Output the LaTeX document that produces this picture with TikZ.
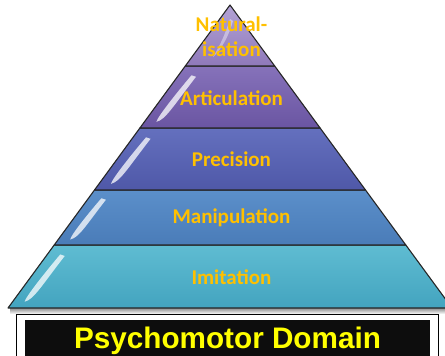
\documentclass[tikz,border=0pt]{standalone}
\usepackage{fontspec}
\setmainfont{Carlito}
\newfontfamily\bannerfont{Liberation Sans}
\definecolor{natTop}{HTML}{B3A3D6}
\definecolor{natBot}{HTML}{8F79BA}
\definecolor{artTop}{HTML}{8672BA}
\definecolor{artBot}{HTML}{6A55A2}
\definecolor{preTop}{HTML}{6470BE}
\definecolor{preBot}{HTML}{4F58A8}
\definecolor{manTop}{HTML}{5B8FCA}
\definecolor{manBot}{HTML}{4A7CB8}
\definecolor{imiTop}{HTML}{5FBCD2}
\definecolor{imiBot}{HTML}{43A4BF}
\definecolor{labelGold}{HTML}{FFC000}
\definecolor{titleYellow}{HTML}{FFFF00}
\definecolor{nearBlack}{HTML}{0D0D0D}

% glossy streak just inside the left edge of a band (#1 = top y, #2 = bottom y)
\newcommand\glint[2]{%
  \pgfmathsetmacro\gh{#2-#1}%
  \pgfmathsetmacro\gya{#1+0.15*\gh}%
  \pgfmathsetmacro\gyb{#2-0.1*\gh}%
  \pgfmathsetmacro\gxa{230-0.73267*(\gya-5)+13}%
  \pgfmathsetmacro\gxb{230-0.73267*(\gyb-5)+12}%
  \pgfmathsetmacro\gxm{\gxa+(\gxb-\gxa)/3}%
  \pgfmathsetmacro\gym{\gya+(\gyb-\gya)/3}%
  \pgfmathsetmacro\gxn{\gxa+2*(\gxb-\gxa)/3}%
  \pgfmathsetmacro\gyn{\gya+2*(\gyb-\gya)/3}%
  \fill[white,opacity=.75]
    (\gxa,\gya) .. controls (\gxm-1.5,\gym) and (\gxb+1,\gyb-5) .. (\gxb,\gyb)
    .. controls (\gxb+9,\gyb-2) and (\gxn+5,\gyn) .. (\gxa+4.5,\gya+1.5) -- cycle;
}

\tikzset{
  band/.style n args={2}{draw=black!85, line width=1.1pt, line join=round,
    top color=#1, bottom color=#2},
  lbl/.style={text=labelGold, font=\fontsize{21}{25}\selectfont\bfseries,
    inner sep=0pt, anchor=base, align=center},
}

\begin{document}
\begin{tikzpicture}[x=1pt,y=-1pt]
\useasboundingbox (0,0) rectangle (445,356);
\clip (0,0) rectangle (445,356);

% soft shadow under the pyramid base
\shade[top color=black!45, bottom color=white] (10,308) rectangle (452,314);

% pyramid bands, bottom to top
\path[band={imiTop}{imiBot}] (54.2,245) -- (405.8,245) -- (452,308) -- (8,308) -- cycle;
\path[band={manTop}{manBot}] (94.5,190) -- (365.5,190) -- (405.8,245) -- (54.2,245) -- cycle;
\path[band={preTop}{preBot}] (139.9,128) -- (320.1,128) -- (365.5,190) -- (94.5,190) -- cycle;
\path[band={artTop}{artBot}] (185.3,66) -- (274.7,66) -- (320.1,128) -- (139.9,128) -- cycle;
\path[band={natTop}{natBot}] (230,5) -- (274.7,66) -- (185.3,66) -- cycle;

% glossy highlights
\glint{245}{308}
\glint{190}{245}
\glint{128}{190}
\glint{66}{128}
\fill[white,opacity=.4] (230,19) .. controls (226,32) and (220,46) .. (213,57)
  .. controls (222,49) and (229,35) .. (233,21) -- cycle;

% level labels (a two-line label sits on the baseline of its last line)
\node[lbl] (nat) at (231.5,56.7) {Natural-\\isation};
\node[lbl] (art) at (231.5,105) {Articulation};
\node[lbl] (pre) at (231.5,166.7) {Precision};
\node[lbl] (man) at (231.5,223.3) {Manipulation};
\node[lbl] (imi) at (231.5,284) {Imitation};

% title banner
\draw[line width=1.6pt, fill=white] (16.5,314.5) rectangle (438.5,370);
\fill[nearBlack] (25,320) rectangle (430,370);
\node[text=titleYellow, font=\bannerfont\fontsize{29.7}{32}\selectfont\bfseries,
  inner sep=0pt, anchor=base] (title) at (227.5,348) {Psychomotor Domain};
\end{tikzpicture}
\end{document}
